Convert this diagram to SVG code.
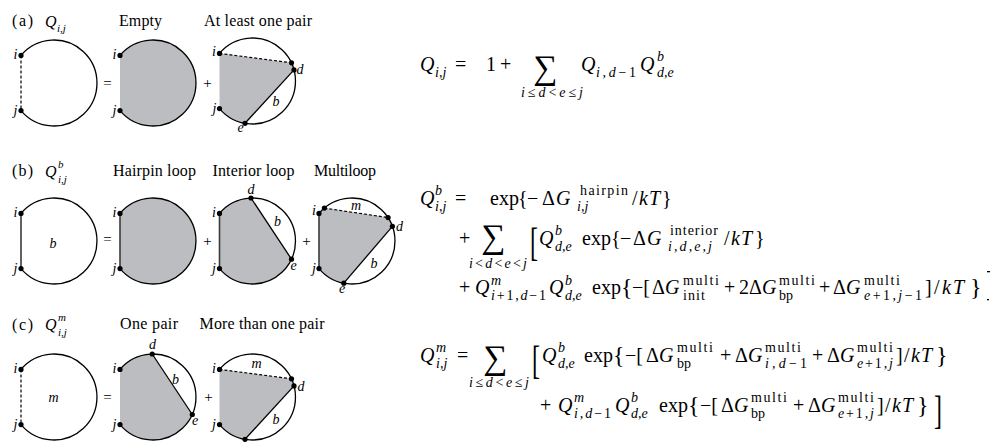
<svg xmlns="http://www.w3.org/2000/svg" width="994" height="442" viewBox="0 0 994 442" font-family="'Liberation Serif', serif">
<style>
text { font-family: 'Liberation Serif', 'DejaVu Serif', serif; fill: #000; }
.t { font-size: 16px; }
.it { font-style: italic; }
.ts { font-size: 11px; font-style: italic; }
.nl { font-size: 14px; font-style: italic; }
.op { font-size: 15px; text-anchor: middle; }
.arc { fill: none; stroke: #000; stroke-width: 1.3; }
.sh { fill: #bcbdc0; stroke: none; }
.ch { fill: none; stroke: #000; stroke-width: 1.3; }
.da { fill: none; stroke: #000; stroke-width: 1.2; stroke-dasharray: 3 2; }
.pl { fill: none; stroke: #3a3a3a; stroke-width: 1.6; }
.m { font-size: 20px; }
.mi { font-size: 20px; font-style: italic; }
.s { font-size: 14px; }
.si { font-size: 14px; font-style: italic; }
.sum { font-size: 34px; text-anchor: middle; }
.br { font-size: 24px; }
.mid { text-anchor: middle; }
.end { text-anchor: end; }
</style>
<defs>
<circle id="dt" r="2.6" fill="#000"/>
</defs>

<!-- ===== Row (a) ===== -->
<g id="a-title">
<text class="t" x="12" y="26" textLength="21">(a)</text>
<text class="t it" x="45" y="27">Q</text><text class="ts" x="57" y="32">i,j</text>
<text class="t" x="119" y="26" textLength="43">Empty</text>
<text class="t" x="204" y="26" textLength="108">At least one pair</text>
</g>
<g id="a-lhs">
<path class="arc" d="M21,55.4 A43,43 0 1 1 21,110.6"/>
<path class="da" d="M21,55.4 V110.6"/>
<use href="#dt" x="21" y="55.4"/><use href="#dt" x="21" y="110.6"/>
<text class="nl end" x="17.5" y="59">i</text><text class="nl end" x="17.5" y="115">j</text>
</g>
<text class="op" x="107.5" y="87.5">=</text>
<g id="a-empty">
<path class="sh" d="M120,55.4 A43,43 0 1 1 120,110.6 Z"/>
<path class="arc" d="M120,55.4 A43,43 0 1 1 120,110.6"/>
<use href="#dt" x="120" y="55.4"/><use href="#dt" x="120" y="110.6"/>
<text class="nl end" x="116.5" y="59">i</text><text class="nl end" x="116.5" y="115">j</text>
</g>
<text class="op" x="207.5" y="87.5">+</text>
<g id="a-pair">
<path class="sh" d="M219.5,53.4 L291.5,62.8 L294,69.9 L245,123.3 A43,43 0 0 1 219.5,108.6 Z"/>
<path class="arc" d="M219.5,53.4 A43,43 0 1 1 219.5,108.6"/>
<path class="da" d="M219.5,53.4 L291.5,62.8"/>
<path class="ch" d="M294,69.9 L245,123.3"/>
<use href="#dt" x="219.5" y="53.4"/><use href="#dt" x="291.5" y="62.8"/><use href="#dt" x="294" y="69.9"/><use href="#dt" x="245" y="123.3"/><use href="#dt" x="219.5" y="108.6"/>
<text class="nl end" x="216" y="56">i</text><text class="nl end" x="216.5" y="113">j</text>
<text class="nl" x="296.5" y="74">d</text>
<text class="nl mid" x="240.5" y="132">e</text>
<text class="nl mid" x="276" y="106">b</text>
</g>

<!-- ===== Row (b) ===== -->
<g id="b-title">
<text class="t" x="12" y="176" textLength="21">(b)</text>
<text class="t it" x="45" y="177">Q</text><text class="ts" x="58" y="168">b</text><text class="ts" x="58" y="183">i,j</text>
<text class="t" x="113" y="176" textLength="83">Hairpin loop</text>
<text class="t" x="212.5" y="176" textLength="82">Interior loop</text>
<text class="t" x="314" y="176" textLength="62">Multiloop</text>
</g>
<g id="b-lhs">
<path class="arc" d="M21,213.4 A43,43 0 1 1 21,268.6"/>
<path class="pl" d="M21,213.4 V268.6"/>
<use href="#dt" x="21" y="213.4"/><use href="#dt" x="21" y="268.6"/>
<text class="nl end" x="17.5" y="217">i</text><text class="nl end" x="17.5" y="273">j</text>
<text class="nl mid" x="53" y="248">b</text>
</g>
<text class="op" x="107.5" y="244">=</text>
<g id="b-hairpin">
<path class="sh" d="M120,213.4 A43,43 0 1 1 120,268.6 Z"/>
<path class="arc" d="M120,213.4 A43,43 0 1 1 120,268.6"/>
<path class="pl" d="M120,213.4 V268.6"/>
<use href="#dt" x="120" y="213.4"/><use href="#dt" x="120" y="268.6"/>
<text class="nl end" x="116.5" y="217">i</text><text class="nl end" x="116.5" y="273">j</text>
</g>
<text class="op" x="207.5" y="245.5">+</text>
<g id="b-interior">
<path class="sh" d="M219.5,213.4 A43,43 0 0 1 251,198 L291.5,259.2 A43,43 0 0 1 219.5,268.6 Z"/>
<path class="arc" d="M219.5,213.4 A43,43 0 1 1 219.5,268.6"/>
<path class="pl" d="M219.5,213.4 V268.6"/>
<path class="ch" d="M251,198 L291.5,259.2"/>
<use href="#dt" x="219.5" y="213.4"/><use href="#dt" x="251" y="198"/><use href="#dt" x="291.5" y="259.2"/><use href="#dt" x="219.5" y="268.6"/>
<text class="nl end" x="216" y="217">i</text><text class="nl end" x="216" y="273">j</text>
<text class="nl mid" x="251" y="194">d</text>
<text class="nl mid" x="277.5" y="226">b</text>
<text class="nl mid" x="293.5" y="270">e</text>
</g>
<text class="op" x="306.5" y="245.5">+</text>
<g id="b-multiloop">
<path class="sh" d="M319,213.4 L324.4,208.1 L388.1,217.6 L392.4,226.3 L343.8,283.2 A43,43 0 0 1 319,268.6 Z"/>
<path class="arc" d="M319,213.4 A43,43 0 1 1 319,268.6"/>
<path class="pl" d="M319,213.4 V268.6"/>
<path class="da" d="M324.4,208.1 L388.1,217.6"/>
<path class="ch" d="M392.4,226.3 L343.8,283.2"/>
<use href="#dt" x="319" y="213.4"/><use href="#dt" x="324.4" y="208.1"/><use href="#dt" x="388.1" y="217.6"/><use href="#dt" x="392.4" y="226.3"/><use href="#dt" x="343.8" y="283.2"/><use href="#dt" x="319" y="268.6"/>
<text class="nl end" x="316" y="215">i</text><text class="nl end" x="316" y="273">j</text>
<text class="nl mid" x="356" y="210">m</text>
<text class="nl" x="396" y="231">d</text>
<text class="nl mid" x="374" y="268">b</text>
<text class="nl mid" x="342" y="293">e</text>
</g>

<!-- ===== Row (c) ===== -->
<g id="c-title">
<text class="t" x="12" y="330" textLength="21">(c)</text>
<text class="t it" x="45" y="330">Q</text><text class="ts" x="58" y="321">m</text><text class="ts" x="58" y="336">i,j</text>
<text class="t" x="120" y="329" textLength="58">One pair</text>
<text class="t" x="199.5" y="329" textLength="125">More than one pair</text>
</g>
<g id="c-lhs">
<path class="arc" d="M21,369.4 A43,43 0 1 1 21,424.6"/>
<path class="da" d="M21,369.4 V424.6"/>
<use href="#dt" x="21" y="369.4"/><use href="#dt" x="21" y="424.6"/>
<text class="nl end" x="17.5" y="373">i</text><text class="nl end" x="17.5" y="429">j</text>
<text class="nl mid" x="53.5" y="402">m</text>
</g>
<text class="op" x="107.5" y="402">=</text>
<g id="c-onepair">
<path class="sh" d="M120,369.4 A43,43 0 0 1 152.2,354 L192.3,414.5 A43,43 0 0 1 120,424.6 Z"/>
<path class="arc" d="M120,369.4 A43,43 0 1 1 120,424.6"/>
<path class="ch" d="M152.2,354 L192.3,414.5"/>
<use href="#dt" x="120" y="369.4"/><use href="#dt" x="152.2" y="354"/><use href="#dt" x="192.3" y="414.5"/><use href="#dt" x="120" y="424.6"/>
<text class="nl end" x="116.5" y="373">i</text><text class="nl end" x="116.5" y="429">j</text>
<text class="nl mid" x="152.5" y="349">d</text>
<text class="nl mid" x="175.5" y="384">b</text>
<text class="nl mid" x="195" y="425">e</text>
</g>
<text class="op" x="208.5" y="402">+</text>
<g id="c-morepairs">
<path class="sh" d="M219.5,369.4 L291.5,378.8 L294,385.9 L245,439.3 A43,43 0 0 1 219.5,424.6 Z"/>
<path class="arc" d="M219.5,369.4 A43,43 0 1 1 219.5,424.6"/>
<path class="da" d="M219.5,369.4 L291.5,378.8"/>
<path class="ch" d="M294,385.9 L245,439.3"/>
<use href="#dt" x="219.5" y="369.4"/><use href="#dt" x="291.5" y="378.8"/><use href="#dt" x="294" y="385.9"/><use href="#dt" x="245" y="439.3"/><use href="#dt" x="219.5" y="424.6"/>
<text class="nl end" x="216" y="373">i</text><text class="nl end" x="216" y="429">j</text>
<text class="nl mid" x="256.5" y="368">m</text>
<text class="nl" x="297.5" y="391">d</text>
<text class="nl mid" x="276" y="424">b</text>
</g>

<!-- ===== Equation (a) ===== -->
<g id="eq-a">
<text class="mi" x="420" y="71">Q</text>
<text class="si" x="435" y="77">i,j</text>
<text class="m" x="455" y="71">=</text>
<text class="m" x="486" y="71">1</text>
<text class="m" x="500" y="71">+</text>
<text class="sum" x="545" y="79">∑</text>
<text class="s mid" x="552" y="97" textLength="62"><tspan class="it">i</tspan>≤<tspan class="it">d</tspan>&lt;<tspan class="it">e</tspan>≤<tspan class="it">j</tspan></text>
<text class="mi" x="581" y="71">Q</text>
<text class="s" x="596" y="77" textLength="40"><tspan class="it">i,d</tspan>−1</text>
<text class="mi" x="640" y="71">Q</text>
<text class="si" x="657" y="61">b</text>
<text class="si" x="657" y="77">d,e</text>
</g>

<!-- ===== Equation (b) ===== -->
<g id="eq-b">
<text class="mi" x="420" y="205">Q</text>
<text class="si" x="435" y="195">b</text>
<text class="si" x="435" y="211">i,j</text>
<text class="m" x="455" y="205">=</text>
<text class="m" x="490" y="205">exp</text>
<text class="m" x="518" y="205">{</text>
<text class="m" x="527" y="205">−</text>
<text class="m" x="542" y="205">Δ</text>
<text class="mi" x="556" y="205">G</text>
<text class="s" x="580" y="195" textLength="48">hairpin</text>
<text class="si" x="577" y="211">i,j</text>
<text class="m" x="632" y="205">/</text>
<text class="mi" x="639" y="205">k</text>
<text class="mi" x="649" y="205">T</text>
<text class="m" x="662" y="205">}</text>

<text class="m" x="459" y="245">+</text>
<text class="sum" x="493" y="248">∑</text>
<text class="s mid" x="498" y="268" textLength="58"><tspan class="it">i</tspan>&lt;<tspan class="it">d</tspan>&lt;<tspan class="it">e</tspan>&lt;<tspan class="it">j</tspan></text>
<text font-size="40" transform="translate(530,256) scale(0.6,1)">[</text>
<text class="mi" x="539" y="245">Q</text>
<text class="si" x="555" y="235">b</text>
<text class="si" x="555" y="251">d,e</text>
<text class="m" x="582" y="245">exp</text>
<text class="m" x="611" y="245">{</text>
<text class="m" x="620" y="245">−</text>
<text class="m" x="633" y="245">Δ</text>
<text class="mi" x="647" y="245">G</text>
<text class="s" x="670" y="235" textLength="48">interior</text>
<text class="si" x="668" y="251" textLength="44">i,d,e,j</text>
<text class="m" x="724" y="245">/</text>
<text class="mi" x="731" y="245">k</text>
<text class="mi" x="741" y="245">T</text>
<text class="m" x="755" y="245">}</text>

<text class="m" x="459" y="294">+</text>
<text class="mi" x="475" y="294">Q</text>
<text class="si" x="491" y="285">m</text>
<text class="s" x="491" y="300" textLength="55"><tspan class="it">i</tspan>+1,<tspan class="it">d</tspan>−1</text>
<text class="mi" x="549" y="294">Q</text>
<text class="si" x="565" y="285">b</text>
<text class="si" x="565" y="300">d,e</text>
<text class="m" x="592" y="294">exp</text>
<text class="br" x="621" y="295">{</text>
<text class="m" x="632" y="294">−[</text>
<text class="m" x="652" y="294">Δ</text>
<text class="mi" x="665" y="294">G</text>
<text class="s" x="683" y="285" textLength="36">multi</text>
<text class="s" x="683" y="300" textLength="22">init</text>
<text class="m" x="724" y="294">+</text>
<text class="m" x="739" y="294">2</text>
<text class="m" x="749" y="294">Δ</text>
<text class="mi" x="762" y="294">G</text>
<text class="s" x="779" y="285" textLength="36">multi</text>
<text class="s" x="779" y="300">bp</text>
<text class="m" x="819" y="294">+</text>
<text class="m" x="833" y="294">Δ</text>
<text class="mi" x="846" y="294">G</text>
<text class="s" x="864" y="285" textLength="36">multi</text>
<text class="s" x="864" y="300" textLength="58"><tspan class="it">e</tspan>+1,<tspan class="it">j</tspan>−1</text>
<text class="m" x="925" y="294">]</text>
<text class="m" x="934" y="294">/</text>
<text class="mi" x="942" y="294">k</text>
<text class="mi" x="953" y="294">T</text>
<text class="br" x="970" y="295">}</text>
<rect x="987" y="271" width="3" height="1.3" fill="#000"/>
<rect x="987" y="299" width="2" height="1.3" fill="#000"/>
</g>

<!-- ===== Equation (c) ===== -->
<g id="eq-c">
<text class="mi" x="420" y="362">Q</text>
<text class="si" x="436" y="352">m</text>
<text class="si" x="436" y="368">i,j</text>
<text class="m" x="457" y="362">=</text>
<text class="sum" x="495" y="369">∑</text>
<text class="s mid" x="499" y="387" textLength="60"><tspan class="it">i</tspan>≤<tspan class="it">d</tspan>&lt;<tspan class="it">e</tspan>≤<tspan class="it">j</tspan></text>
<text font-size="40" transform="translate(532,374) scale(0.6,1)">[</text>
<text class="mi" x="542" y="362">Q</text>
<text class="si" x="558" y="352">b</text>
<text class="si" x="558" y="368">d,e</text>
<text class="m" x="584" y="362">exp</text>
<text class="br" x="613" y="363">{</text>
<text class="m" x="625" y="362">−[</text>
<text class="m" x="646" y="362">Δ</text>
<text class="mi" x="659" y="362">G</text>
<text class="s" x="677" y="352" textLength="36">multi</text>
<text class="s" x="677" y="368">bp</text>
<text class="m" x="720" y="362">+</text>
<text class="m" x="735" y="362">Δ</text>
<text class="mi" x="748" y="362">G</text>
<text class="s" x="765" y="352" textLength="36">multi</text>
<text class="s" x="765" y="368" textLength="42"><tspan class="it">i,d</tspan>−1</text>
<text class="m" x="812" y="362">+</text>
<text class="m" x="827" y="362">Δ</text>
<text class="mi" x="840" y="362">G</text>
<text class="s" x="857" y="352" textLength="36">multi</text>
<text class="s" x="857" y="368" textLength="36"><tspan class="it">e</tspan>+1,<tspan class="it">j</tspan></text>
<text class="m" x="896" y="362">]</text>
<text class="m" x="904" y="362">/</text>
<text class="mi" x="911" y="362">k</text>
<text class="mi" x="921" y="362">T</text>
<text class="br" x="936" y="363">}</text>

<text class="m" x="540" y="412">+</text>
<text class="mi" x="558" y="412">Q</text>
<text class="si" x="574" y="402">m</text>
<text class="s" x="574" y="418" textLength="37"><tspan class="it">i,d</tspan>−1</text>
<text class="mi" x="615" y="412">Q</text>
<text class="si" x="631" y="402">b</text>
<text class="si" x="631" y="418">d,e</text>
<text class="m" x="659" y="412">exp</text>
<text class="br" x="688" y="413">{</text>
<text class="m" x="700" y="412">−[</text>
<text class="m" x="721" y="412">Δ</text>
<text class="mi" x="734" y="412">G</text>
<text class="s" x="751" y="402" textLength="36">multi</text>
<text class="s" x="751" y="418">bp</text>
<text class="m" x="793" y="412">+</text>
<text class="m" x="808" y="412">Δ</text>
<text class="mi" x="821" y="412">G</text>
<text class="s" x="838" y="402" textLength="36">multi</text>
<text class="s" x="838" y="418" textLength="36"><tspan class="it">e</tspan>+1,<tspan class="it">j</tspan></text>
<text class="m" x="877" y="412">]</text>
<text class="m" x="885" y="412">/</text>
<text class="mi" x="892" y="412">k</text>
<text class="mi" x="902" y="412">T</text>
<text class="br" x="917" y="413">}</text>
<text font-size="40" transform="translate(934,424) scale(0.6,1)">]</text>
</g>
</svg>
